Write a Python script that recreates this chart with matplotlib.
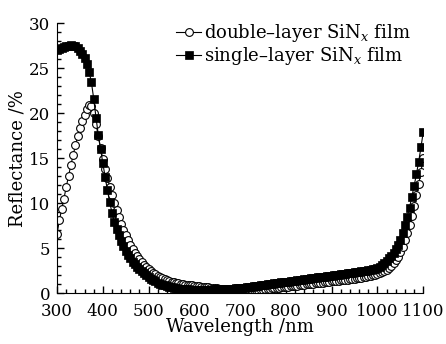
import numpy as np
import matplotlib.pyplot as plt
from matplotlib.ticker import MultipleLocator

plt.rcParams['font.family'] = 'DejaVu Serif'
plt.rcParams['mathtext.fontset'] = 'dejavuserif'

wavelength = np.arange(300, 1101, 5)

# double-layer film (open circles)
double = [6.6, 8.1, 9.3, 10.5, 11.8, 13.0, 14.2, 15.3, 16.4, 17.4, 18.3, 19.1, 19.8, 20.4, 20.9, 20.8, 20.0, 18.8, 17.4, 16.1,
          14.9, 13.8, 12.8, 11.8, 10.9, 10.0, 9.2, 8.4, 7.7, 7.0, 6.4, 5.85, 5.35, 4.9, 4.5, 4.1, 3.75, 3.45, 3.15, 2.9,
          2.65, 2.45, 2.25, 2.08, 1.92, 1.78, 1.66, 1.55, 1.45, 1.36, 1.28, 1.21, 1.15, 1.09, 1.04, 0.99, 0.95, 0.91, 0.88, 0.85,
          0.82, 0.79, 0.76, 0.73, 0.7, 0.67, 0.64, 0.61, 0.58, 0.55, 0.52, 0.49, 0.46, 0.43, 0.4, 0.37, 0.34, 0.32, 0.3, 0.28,
          0.27, 0.26, 0.26, 0.26, 0.27, 0.28, 0.3, 0.32, 0.34, 0.36, 0.39, 0.42, 0.45, 0.48, 0.51, 0.54, 0.57, 0.6, 0.63, 0.66,
          0.69, 0.72, 0.75, 0.78, 0.81, 0.84, 0.87, 0.9, 0.93, 0.96, 0.99, 1.02, 1.05, 1.08, 1.11, 1.14, 1.17, 1.2, 1.23, 1.26,
          1.29, 1.32, 1.35, 1.38, 1.41, 1.44, 1.47, 1.5, 1.53, 1.56, 1.6, 1.64, 1.68, 1.72, 1.76, 1.8, 1.85, 1.9, 1.96, 2.02,
          2.1, 2.2, 2.32, 2.46, 2.62, 2.82, 3.05, 3.32, 3.65, 4.05, 4.55, 5.15, 5.85, 6.65, 7.55, 8.55, 9.65, 10.85, 12.1, 13.5, 15.0]

# single-layer film (filled squares)
single = [27.0, 27.1, 27.2, 27.3, 27.4, 27.5, 27.55, 27.5, 27.4, 27.2, 26.9, 26.6, 26.1, 25.5, 24.6, 23.4, 21.6, 19.5, 17.6, 16.0,
          14.4, 12.9, 11.4, 10.1, 8.9, 7.9, 7.1, 6.4, 5.8, 5.2, 4.7, 4.25, 3.85, 3.5, 3.2, 2.9, 2.65, 2.4, 2.2, 2.0,
          1.8, 1.62, 1.45, 1.3, 1.16, 1.04, 0.94, 0.85, 0.77, 0.7, 0.64, 0.59, 0.54, 0.5, 0.47, 0.44, 0.42, 0.4, 0.38, 0.37,
          0.36, 0.35, 0.35, 0.35, 0.35, 0.36, 0.37, 0.38, 0.39, 0.4, 0.41, 0.42, 0.43, 0.44, 0.45, 0.46, 0.48, 0.5, 0.51, 0.53,
          0.55, 0.58, 0.62, 0.65, 0.69, 0.72, 0.76, 0.79, 0.83, 0.86, 0.9, 0.93, 0.97, 1.0, 1.04, 1.07, 1.11, 1.14, 1.18, 1.21,
          1.25, 1.28, 1.32, 1.35, 1.39, 1.42, 1.46, 1.49, 1.53, 1.56, 1.6, 1.63, 1.67, 1.7, 1.74, 1.77, 1.81, 1.84, 1.88, 1.91,
          1.95, 1.98, 2.02, 2.05, 2.09, 2.12, 2.16, 2.19, 2.23, 2.26, 2.3, 2.34, 2.38, 2.42, 2.46, 2.5, 2.55, 2.6, 2.66, 2.73,
          2.8, 2.95, 3.15, 3.35, 3.6, 3.85, 4.15, 4.5, 4.9, 5.35, 5.9, 6.7, 7.55, 8.5, 9.5, 10.7, 11.9, 13.2, 14.6, 16.2, 17.9]

labels = ['double\u2013layer SiN$_x$ film', 'single\u2013layer SiN$_x$ film']

fig = plt.figure(figsize=(4.46, 3.44), dpi=100)
ax = fig.add_axes([0.128, 0.148, 0.821, 0.785])

ax.plot(wavelength, double, '-', color='black', lw=0.8, marker='o', ms=5.6,
        mfc='white', mec='black', mew=0.8, label=labels[0])
ax.plot(wavelength, single, '-', color='black', lw=0.8, marker='s', ms=5.2,
        mfc='black', mec='black', mew=0.5, label=labels[1])

ax.set_xlim(300, 1100)
ax.set_ylim(0, 30)
ax.xaxis.set_major_locator(MultipleLocator(100))
ax.xaxis.set_minor_locator(MultipleLocator(20))
ax.yaxis.set_major_locator(MultipleLocator(5))
ax.yaxis.set_minor_locator(MultipleLocator(1))
ax.tick_params(which='both', direction='in', labelsize=12, width=1)
ax.tick_params(axis='x', pad=7)
ax.tick_params(axis='y', pad=5)
ax.tick_params(which='major', length=5)
ax.tick_params(which='minor', length=3)
ax.spines['top'].set_visible(False)
ax.spines['right'].set_visible(False)

ax.set_xlabel('Wavelength /nm', fontsize=13, labelpad=-1)
ax.set_ylabel('Reflectance /%', fontsize=13, labelpad=2)

ax.legend(loc='upper right', bbox_to_anchor=(1.0, 1.05), frameon=False, fontsize=13,
          handlelength=1.4, handletextpad=0.15, labelspacing=0.05, borderpad=0.2)

fig.savefig('out.png', dpi=100)
